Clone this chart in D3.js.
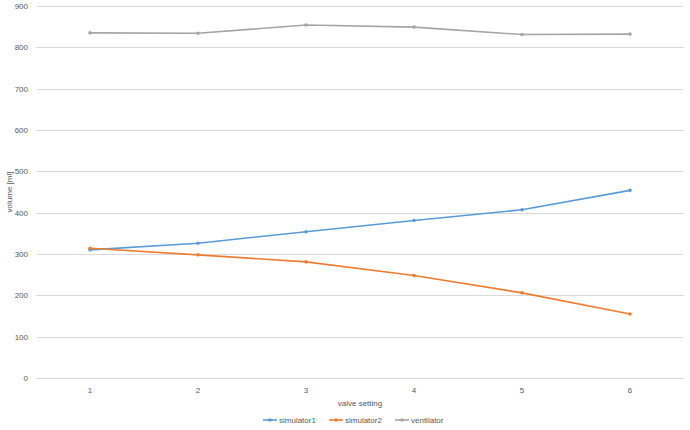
<!DOCTYPE html>
<html>
<head>
<meta charset="utf-8">
<script src="https://cdn.jsdelivr.net/npm/d3@7"></script>
<style>
  body { margin: 0; background: #fff; }
  text { font-family: "Liberation Sans", "DejaVu Sans", sans-serif; fill: #595959; }
</style>
</head>
<body>
<script>
// Chart size
var w = 690;
var h = 430;

// Data
var categories = ["1", "2", "3", "4", "5", "6"];
var simulator1 = [310, 326, 354, 381, 407, 454];
var simulator2 = [314, 298, 281, 248, 206, 155];
var ventilator = [835, 834, 854, 849, 831, 832];
var yTicks = [0, 100, 200, 300, 400, 500, 600, 700, 800, 900];

var seriesNames = ["simulator1", "simulator2", "ventilator"];
var seriesValues = [simulator1, simulator2, ventilator];
var colors = ["#5b9bd5", "#ed7d31", "#a5a5a5"];

var margin = {left: 36, right: 6, top: 6, bottom: 52};

var svg = d3.select("body")
    .append("svg")
    .attr("width", w)
    .attr("height", h);

// Scales
var xScale = d3.scaleBand()
    .domain(categories)
    .range([margin.left, w - margin.right]);

var yScale = d3.scaleLinear()
    .domain([0, 900])
    .range([h - margin.bottom, margin.top]);

// Gridlines
svg.append("g")
    .selectAll("line")
    .data(yTicks)
    .enter()
    .append("line")
    .attr("x1", margin.left)
    .attr("x2", w - margin.right)
    .attr("y1", function(d) { return Math.round(yScale(d)) + 0.5; })
    .attr("y2", function(d) { return Math.round(yScale(d)) + 0.5; })
    .attr("stroke", "#d9d9d9")
    .attr("stroke-width", 1);

// Y axis labels
var yAxis = d3.axisLeft(yScale).tickValues(yTicks).tickSize(0).tickPadding(8);
svg.append("g")
    .attr("transform", "translate(" + margin.left + ",0)")
    .call(yAxis)
    .call(function(g) { g.select(".domain").remove(); })
    .selectAll("text")
    .attr("font-size", "8px")
    .attr("font-family", null)
    .attr("fill", "#595959");

// X axis labels
var xAxis = d3.axisBottom(xScale).tickSize(0).tickPadding(9);
svg.append("g")
    .attr("transform", "translate(0," + (h - margin.bottom) + ")")
    .call(xAxis)
    .call(function(g) { g.select(".domain").remove(); })
    .selectAll("text")
    .attr("font-size", "8px")
    .attr("font-family", null)
    .attr("fill", "#595959");

// Axis titles
svg.append("text")
    .attr("x", (margin.left + w - margin.right) / 2)
    .attr("y", 406)
    .attr("text-anchor", "middle")
    .attr("font-size", "8px")
    .text("valve setting");

svg.append("text")
    .attr("transform", "translate(12," + (yScale(450)) + ") rotate(-90)")
    .attr("text-anchor", "middle")
    .attr("font-size", "8px")
    .text("volume [ml]");

// Lines and markers
var line = d3.line()
    .x(function(d, i) { return xScale(categories[i]) + xScale.bandwidth() / 2; })
    .y(function(d) { return yScale(d); });

seriesValues.forEach(function(vals, k) {
    svg.append("path")
        .datum(vals)
        .attr("d", line)
        .attr("fill", "none")
        .attr("stroke", colors[k])
        .attr("stroke-width", 1.6);

    svg.selectAll(".pt" + k)
        .data(vals)
        .enter()
        .append("circle")
        .attr("class", "pt" + k)
        .attr("cx", function(d, i) { return xScale(categories[i]) + xScale.bandwidth() / 2; })
        .attr("cy", function(d) { return yScale(d); })
        .attr("r", 1.8)
        .attr("fill", colors[k]);
});

// Legend
var legendX = [263, 329, 395];
var legend = svg.append("g").attr("transform", "translate(0,420)");
seriesNames.forEach(function(name, k) {
    legend.append("line")
        .attr("x1", legendX[k])
        .attr("x2", legendX[k] + 14)
        .attr("y1", 0)
        .attr("y2", 0)
        .attr("stroke", colors[k])
        .attr("stroke-width", 1.6);
    legend.append("circle")
        .attr("cx", legendX[k] + 7)
        .attr("cy", 0)
        .attr("r", 1.8)
        .attr("fill", colors[k]);
    legend.append("text")
        .attr("x", legendX[k] + 16)
        .attr("y", 3)
        .attr("font-size", "8px")
        .text(name);
});
</script>
</body>
</html>
